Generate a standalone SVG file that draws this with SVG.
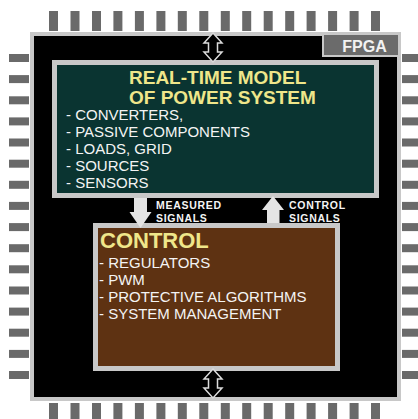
<svg xmlns="http://www.w3.org/2000/svg" width="418" height="419" viewBox="0 0 418 419">
<style>
.pin{fill:#6a6a6a}
.title{font-family:"Liberation Sans",Arial,sans-serif;font-weight:bold;fill:#efe68a}
.item{font-family:"Liberation Sans",Arial,sans-serif;font-size:15px;fill:#f4f4f4}
.lbl{font-family:"Liberation Sans",Arial,sans-serif;font-weight:bold;font-size:10.5px;letter-spacing:0.7px;fill:#f4f4f4}
.bigarrow{fill:#e4e4e4}
.dbl{fill:#000;stroke:#dcdcdc;stroke-width:1.5;stroke-linejoin:miter}
</style>
<defs>
<rect id="pt" class="pin" width="9" height="20"/>
<rect id="pl" class="pin" width="20" height="8"/>
</defs>
<rect width="418" height="419" fill="#ffffff"/>
<g id="chip">
<g id="pins-top">
<use href="#pt" x="49" y="11"/><use href="#pt" x="70.5" y="11"/><use href="#pt" x="92" y="11"/><use href="#pt" x="113.4" y="11"/>
<use href="#pt" x="134.9" y="11"/><use href="#pt" x="156.4" y="11"/><use href="#pt" x="177.8" y="11"/><use href="#pt" x="199.3" y="11"/>
<use href="#pt" x="220.8" y="11"/><use href="#pt" x="242.2" y="11"/><use href="#pt" x="263.7" y="11"/><use href="#pt" x="285.2" y="11"/>
<use href="#pt" x="306.6" y="11"/><use href="#pt" x="328.1" y="11"/><use href="#pt" x="349.6" y="11"/><use href="#pt" x="371" y="11"/>
</g>
<g id="pins-bottom">
<use href="#pt" x="49" y="403"/><use href="#pt" x="70.5" y="403"/><use href="#pt" x="92" y="403"/><use href="#pt" x="113.4" y="403"/>
<use href="#pt" x="134.9" y="403"/><use href="#pt" x="156.4" y="403"/><use href="#pt" x="177.8" y="403"/><use href="#pt" x="199.3" y="403"/>
<use href="#pt" x="220.8" y="403"/><use href="#pt" x="242.2" y="403"/><use href="#pt" x="263.7" y="403"/><use href="#pt" x="285.2" y="403"/>
<use href="#pt" x="306.6" y="403"/><use href="#pt" x="328.1" y="403"/><use href="#pt" x="349.6" y="403"/><use href="#pt" x="371" y="403"/>
</g>
<g id="pins-left">
<use href="#pl" x="9" y="54"/><use href="#pl" x="9" y="75.1"/><use href="#pl" x="9" y="96.3"/><use href="#pl" x="9" y="117.4"/>
<use href="#pl" x="9" y="138.5"/><use href="#pl" x="9" y="159.7"/><use href="#pl" x="9" y="180.8"/><use href="#pl" x="9" y="201.9"/>
<use href="#pl" x="9" y="223.1"/><use href="#pl" x="9" y="244.2"/><use href="#pl" x="9" y="265.3"/><use href="#pl" x="9" y="286.5"/>
<use href="#pl" x="9" y="307.6"/><use href="#pl" x="9" y="328.7"/><use href="#pl" x="9" y="349.9"/><use href="#pl" x="9" y="371"/>
</g>
<g id="pins-right">
<use href="#pl" x="402" y="54"/><use href="#pl" x="402" y="75.1"/><use href="#pl" x="402" y="96.3"/><use href="#pl" x="402" y="117.4"/>
<use href="#pl" x="402" y="138.5"/><use href="#pl" x="402" y="159.7"/><use href="#pl" x="402" y="180.8"/><use href="#pl" x="402" y="201.9"/>
<use href="#pl" x="402" y="223.1"/><use href="#pl" x="402" y="244.2"/><use href="#pl" x="402" y="265.3"/><use href="#pl" x="402" y="286.5"/>
<use href="#pl" x="402" y="307.6"/><use href="#pl" x="402" y="328.7"/><use href="#pl" x="402" y="349.9"/><use href="#pl" x="402" y="371"/>
</g>
<rect x="32" y="34" width="367" height="365" fill="#000000" stroke="#c8c8c8" stroke-width="4"/>
</g>
<g id="fpga-label">
<rect x="323" y="34" width="76" height="22" fill="#6b6b6b" stroke="#c8c8c8" stroke-width="2"/>
<text x="364.5" y="52" text-anchor="middle" font-family="'Liberation Sans',Arial,sans-serif" font-weight="bold" font-size="16" fill="#f2f2f2">FPGA</text>
</g>
<g id="model">
<rect x="54.5" y="62.5" width="322" height="133" fill="#0a3431" stroke="#c8c8c8" stroke-width="5"/>
<text class="title" font-size="19" x="129" y="84">REAL-TIME MODEL</text>
<text class="title" font-size="19" x="129" y="104">OF POWER SYSTEM</text>
<text class="item" x="66" y="120">- CONVERTERS,</text>
<text class="item" x="66" y="137">- PASSIVE COMPONENTS</text>
<text class="item" x="66" y="154">- LOADS, GRID</text>
<text class="item" x="66" y="171">- SOURCES</text>
<text class="item" x="66" y="188">- SENSORS</text>
</g>
<g id="control">
<rect x="95.5" y="225.5" width="242" height="143" fill="#5e3212" stroke="#c8c8c8" stroke-width="5"/>
<text class="title" font-size="22" x="100" y="248">CONTROL</text>
<text class="item" x="99" y="268">- REGULATORS</text>
<text class="item" x="99" y="285">- PWM</text>
<text class="item" x="99" y="302">- PROTECTIVE ALGORITHMS</text>
<text class="item" x="99" y="319">- SYSTEM MANAGEMENT</text>
</g>
<g id="connectors">
<polygon class="bigarrow" points="134,198 147,198 147,212 151.5,212 140.5,228 129.5,212 134,212"/>
<text class="lbl" x="156" y="209">MEASURED</text>
<text class="lbl" x="156" y="222">SIGNALS</text>
<polygon class="bigarrow" points="273,196 284,210 279.5,210 279.5,223 267,223 267,210 262,210"/>
<text class="lbl" x="289" y="209">CONTROL</text>
<text class="lbl" x="289" y="222">SIGNALS</text>
<polygon class="dbl" points="213,33 222,43 217.5,43 217.5,52 222,52 213,62 204,52 208.5,52 208.5,43 204,43"/>
<polygon class="dbl" points="213,369 222,379 217.5,379 217.5,388 222,388 213,398 204,388 208.5,388 208.5,379 204,379"/>
</g>
</svg>
